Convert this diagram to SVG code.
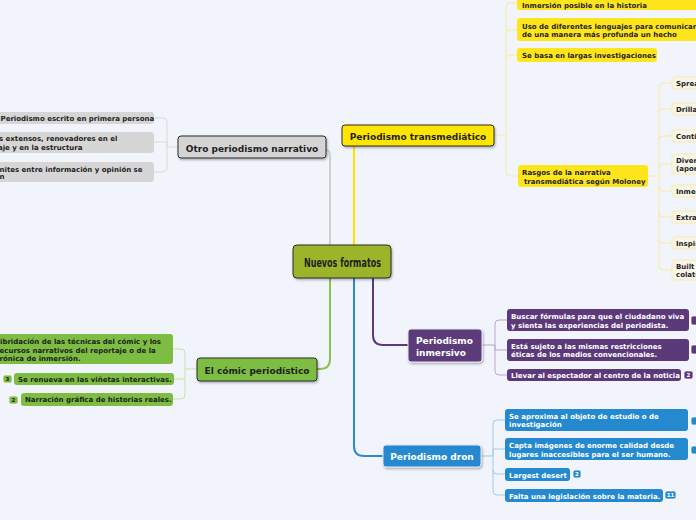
<svg xmlns="http://www.w3.org/2000/svg" width="696" height="520" viewBox="0 0 696 520">
<style>
text{font-family:"DejaVu Sans","Verdana",sans-serif;font-weight:bold;}
.t{font-size:7px;}
.m{font-size:9px;}
.dk{fill:#1e1e1e;}
.wh{fill:#ffffff;}
.main{stroke:#2b2b2b;stroke-width:1;}
.lite{stroke:#e6e6ee;stroke-width:1;}
.cn{fill:none;stroke-width:2;}
.cc{fill:none;stroke-width:1;}
.bd{font-size:5.5px;text-anchor:middle;}
</style>
<defs>
<filter id="sh" x="-10%" y="-20%" width="120%" height="150%">
<feDropShadow dx="1" dy="1.5" stdDeviation="1" flood-color="#000" flood-opacity="0.3"/>
</filter>
</defs>
<rect width="696" height="520" fill="#f2f4fc"/>

<g id="connectors">
<path class="cn" stroke="#cfcfcf" d="M326,150 Q330,150 330,156 L330,245"/>
<path class="cn" stroke="#ffe100" d="M354,146 L354,245"/>
<path class="cn" stroke="#5c3a7a" d="M373,278 L373,335 Q373,345 383,345 L408,345"/>
<path class="cn" stroke="#8cc152" d="M330,278 L330,359 Q330,369 320,369 L317,369"/>
<path class="cn" stroke="#2a8ad0" d="M354,278 L354,446 Q354,456 364,456 L383,456"/>

<g stroke="#d9d9d9" class="cc">
<path d="M178,147 H167 V122 Q167,118 163,118 H154"/>
<path d="M167,147 V142 H154"/>
<path d="M167,147 V168 Q167,172 163,172 H154"/>
</g>
<g stroke="#f7ea9c" class="cc">
<path d="M494,135 H506 V7 Q506,3 510,3 H517"/>
<path d="M506,34 Q506,30 510,30 H517"/>
<path d="M506,59 Q506,55 510,55 H517"/>
<path d="M506,135 V172 Q506,176 510,176 H518"/>
</g>
<g stroke="#f7ea9c" class="cc">
<path d="M648,176 H659 V87 Q659,83 663,83 H672"/>
<path d="M659,113 Q659,109 663,109 H672"/>
<path d="M659,140 Q659,136 663,136 H672"/>
<path d="M659,168 Q659,164 663,164 H672"/>
<path d="M659,176 V187 Q659,191 663,191 H672"/>
<path d="M659,187 V213 Q659,217 663,217 H672"/>
<path d="M659,213 V239 Q659,243 663,243 H672"/>
<path d="M659,239 V266 Q659,270 663,270 H672"/>
</g>
<g stroke="#b9a6cb" class="cc">
<path d="M482,345 H495 V324 Q495,320 499,320 H507"/>
<path d="M495,345 V350 H507"/>
<path d="M495,345 V371 Q495,375 499,375 H507"/>
</g>
<g stroke="#9ccbed" class="cc">
<path d="M481,456 H493 V424 Q493,420 497,420 H505"/>
<path d="M493,456 V449 H505"/>
<path d="M493,456 V470 Q493,474 497,474 H505"/>
<path d="M493,470 V491 Q493,495 497,495 H505"/>
</g>
<g stroke="#c6e1a8" class="cc">
<path d="M197,369 H185 V353 Q185,349 181,349 H173"/>
<path d="M185,369 V379 H174"/>
<path d="M185,379 V395 Q185,399 181,399 H173"/>
</g>
</g>

<g id="n-center">
<rect x="293" y="245" width="98" height="33" rx="4" fill="#9ab52c" class="main" filter="url(#sh)"/>
<text x="304" y="266.5" font-size="13" class="dk" style="font-family:'DejaVu Sans Condensed','DejaVu Sans',sans-serif" textLength="77" lengthAdjust="spacingAndGlyphs">Nuevos formatos</text>
</g>

<g id="n-otro">
<rect x="178" y="136" width="148" height="22" rx="3" fill="#d4d4d4" class="main" filter="url(#sh)"/>
<text x="252" y="151.5" class="m dk" text-anchor="middle">Otro periodismo narrativo</text>
</g>
<g id="n-otro-1">
<rect x="-6" y="112" width="160" height="12" rx="3" fill="#d6d6d6"/>
<text x="0.5" y="121" class="t dk">Periodismo escrito en primera persona</text>
</g>
<g id="n-otro-2">
<rect x="-6" y="132" width="160" height="21" rx="3" fill="#d6d6d6"/>
<text x="-1" y="140.5" class="t dk">s extensos, renovadores en el</text>
<text x="-2" y="149.5" class="t dk">aje y en la estructura</text>
</g>
<g id="n-otro-3">
<rect x="-6" y="162" width="160" height="20" rx="3" fill="#d6d6d6"/>
<text x="-0.5" y="171.5" class="t dk">nites entre información y opinión se</text>
<text x="-0.5" y="179" class="t dk">n</text>
</g>

<g id="n-trans">
<rect x="342" y="125" width="152" height="21" rx="3" fill="#ffe600" class="main" filter="url(#sh)"/>
<text x="418" y="139.5" class="m dk" text-anchor="middle">Periodismo transmediático</text>
</g>
<g id="n-trans-1">
<rect x="517" y="-6" width="185" height="16" rx="3" fill="#ffe61c"/>
<text x="522" y="7.5" class="t dk">Inmersión posible en la historia</text>
</g>
<g id="n-trans-2">
<rect x="517" y="18" width="185" height="23" rx="3" fill="#ffe61c"/>
<text x="522" y="28.5" class="t dk">Uso de diferentes lenguajes para comunicar</text>
<text x="522" y="37" class="t dk">de una manera más profunda un hecho</text>
</g>
<g id="n-trans-3">
<rect x="517" y="48" width="140" height="14" rx="3" fill="#ffe61c"/>
<text x="522" y="57.5" class="t dk">Se basa en largas investigaciones</text>
</g>
<g id="n-trans-4">
<rect x="518" y="165" width="130" height="22" rx="3" fill="#ffe61c"/>
<text x="522" y="175" class="t dk">Rasgos de la narrativa</text>
<text x="524" y="184" class="t dk">transmediática según Moloney</text>
</g>

<g id="n-r1"><rect x="672" y="77" width="40" height="12" rx="3" fill="#f7f5e8" stroke="#f7ea9c" stroke-width="0.8"/><text x="676" y="85.5" class="t dk">Spreada</text></g>
<g id="n-r2"><rect x="672" y="103" width="40" height="12" rx="3" fill="#f7f5e8" stroke="#f7ea9c" stroke-width="0.8"/><text x="676" y="111.5" class="t dk">Drillab</text></g>
<g id="n-r3"><rect x="672" y="130" width="40" height="12" rx="3" fill="#f7f5e8" stroke="#f7ea9c" stroke-width="0.8"/><text x="676" y="138.5" class="t dk">Contin</text></g>
<g id="n-r4"><rect x="672" y="154" width="40" height="20" rx="3" fill="#f7f5e8" stroke="#f7ea9c" stroke-width="0.8"/><text x="676" y="162.5" class="t dk">Divers</text><text x="676" y="170.5" class="t dk">(aport</text></g>
<g id="n-r5"><rect x="672" y="185" width="40" height="12" rx="3" fill="#f7f5e8" stroke="#f7ea9c" stroke-width="0.8"/><text x="676" y="193.5" class="t dk">Inmer</text></g>
<g id="n-r6"><rect x="672" y="211" width="40" height="12" rx="3" fill="#f7f5e8" stroke="#f7ea9c" stroke-width="0.8"/><text x="676" y="219.5" class="t dk">Extrac</text></g>
<g id="n-r7"><rect x="672" y="237" width="40" height="12" rx="3" fill="#f7f5e8" stroke="#f7ea9c" stroke-width="0.8"/><text x="676" y="245.5" class="t dk">Inspiri</text></g>
<g id="n-r8"><rect x="672" y="260" width="40" height="20" rx="3" fill="#f7f5e8" stroke="#f7ea9c" stroke-width="0.8"/><text x="676" y="268.5" class="t dk">Built in</text><text x="676" y="276.5" class="t dk">colater</text></g>

<g id="n-inm">
<rect x="408" y="329" width="74" height="33" rx="3" fill="#5c3a7a" class="lite" filter="url(#sh)"/>
<text x="416" y="344" class="m wh">Periodismo</text>
<text x="416" y="355.5" class="m wh">inmersivo</text>
</g>
<g id="n-inm-1">
<rect x="507" y="309" width="182" height="22" rx="3" fill="#5c3a7a"/>
<text x="511" y="318.5" class="t wh">Buscar fórmulas para que el ciudadano viva</text>
<text x="511" y="327.5" class="t wh">y sienta las experiencias del periodista.</text>
<rect x="691" y="316" width="10" height="9" rx="2" fill="#5c3a7a" stroke="#fff" stroke-width="0.7"/>
</g>
<g id="n-inm-2">
<rect x="507" y="339" width="182" height="22" rx="3" fill="#5c3a7a"/>
<text x="511" y="348.5" class="t wh">Está sujeto a las mismas restricciones</text>
<text x="511" y="357" class="t wh">éticas de los medios convencionales.</text>
<rect x="691" y="345" width="10" height="9" rx="2" fill="#5c3a7a" stroke="#fff" stroke-width="0.7"/>
</g>
<g id="n-inm-3">
<rect x="507" y="369" width="174" height="12" rx="3" fill="#5c3a7a"/>
<text x="511" y="378" class="t wh">Llevar al espectador al centro de la noticia</text>
<rect x="684" y="371" width="9" height="8" rx="2" fill="#5c3a7a" stroke="#fff" stroke-width="0.7"/>
<text x="688.5" y="377" class="bd wh">2</text>
</g>

<g id="n-dron">
<rect x="383" y="445" width="98" height="22" rx="3" fill="#2589cf" class="lite" filter="url(#sh)"/>
<text x="432" y="459.5" class="m wh" text-anchor="middle">Periodismo dron</text>
</g>
<g id="n-dron-1">
<rect x="505" y="409" width="183" height="22" rx="3" fill="#2589cf"/>
<text x="509" y="419" class="t wh">Se aproxima al objeto de estudio o de</text>
<text x="509" y="427" class="t wh">investigación</text>
<rect x="691" y="417" width="10" height="8" rx="2" fill="#2589cf" stroke="#fff" stroke-width="0.7"/>
</g>
<g id="n-dron-2">
<rect x="505" y="438" width="183" height="22" rx="3" fill="#2589cf"/>
<text x="509" y="447.5" class="t wh">Capta imágenes de enorme calidad desde</text>
<text x="509" y="456.5" class="t wh">lugares inaccesibles para el ser humano.</text>
<rect x="691" y="446" width="10" height="8" rx="2" fill="#2589cf" stroke="#fff" stroke-width="0.7"/>
</g>
<g id="n-dron-3">
<rect x="505" y="468" width="65" height="13" rx="3" fill="#2589cf"/>
<text x="509" y="477.5" class="t wh">Largest desert</text>
<rect x="573" y="470" width="8" height="8" rx="2" fill="#2589cf" stroke="#fff" stroke-width="0.7"/>
<text x="577" y="476" class="bd wh">2</text>
</g>
<g id="n-dron-4">
<rect x="505" y="489" width="158" height="13" rx="3" fill="#2589cf"/>
<text x="509" y="498.5" class="t wh">Falta una legislación sobre la materia.</text>
<rect x="665" y="491" width="11" height="8" rx="2" fill="#2589cf" stroke="#fff" stroke-width="0.7"/>
<text x="670.5" y="497" class="bd wh">11</text>
</g>

<g id="n-comic">
<rect x="197" y="358" width="120" height="23" rx="3" fill="#7cbd42" class="main" filter="url(#sh)"/>
<text x="257" y="373.5" class="m dk" text-anchor="middle">El cómic periodístico</text>
</g>
<g id="n-comic-1">
<rect x="-6" y="334" width="179" height="30" rx="3" fill="#7cbd42"/>
<text x="0" y="344" class="t dk">ibridación de las técnicas del cómic y los</text>
<text x="-0.5" y="352.5" class="t dk">ecursos narrativos del reportaje o de la</text>
<text x="-0.5" y="361" class="t dk">rónica de inmersión.</text>
</g>
<g id="n-comic-2">
<rect x="14" y="373" width="160" height="12" rx="3" fill="#7cbd42"/>
<text x="18" y="381.5" class="t dk">Se renueva en las viñetas interactivas.</text>
<rect x="3" y="375" width="9" height="8" rx="2" fill="#7cbd42" stroke="#fff" stroke-width="0.7"/>
<text x="7.5" y="381" class="bd dk">3</text>
</g>
<g id="n-comic-3">
<rect x="21" y="393" width="152" height="13" rx="3" fill="#7cbd42"/>
<text x="25" y="402" class="t dk">Narración gráfica de historias reales.</text>
<rect x="9" y="396" width="9" height="8" rx="2" fill="#7cbd42" stroke="#fff" stroke-width="0.7"/>
<text x="13.5" y="402" class="bd dk">2</text>
</g>
</svg>
